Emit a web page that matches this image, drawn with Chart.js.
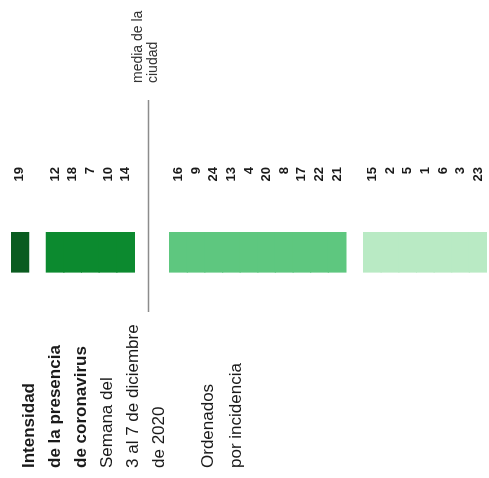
<!DOCTYPE html>
<html><head><meta charset="utf-8">
<script src="https://cdn.jsdelivr.net/npm/chart.js@4/dist/chart.umd.min.js"></script>
<style>
html,body{margin:0;padding:0;background:#fff;overflow:hidden}
#stage{position:relative;width:489px;height:478px;overflow:hidden;background:#fff}
#frame{position:absolute;left:0;top:0;width:478px;height:489px;transform-origin:0 0;transform:translate(0,478px) rotate(-90deg)}
#c{position:absolute;left:0;top:0}
.t{position:absolute;font-family:'Liberation Sans',Arial,sans-serif;color:#1a1a1a;white-space:nowrap}
</style></head>
<body><div id="stage"><div id="frame">
<canvas id="c" width="478" height="489"></canvas>
<div class="t" style="left:10px;top:16px;font-size:17px;line-height:26px"><b>Intensidad<br>de la presencia<br>de coronavirus</b><br>Semana del<br>3 al 7 de diciembre<br>de 2020</div>
<div class="t" style="left:10px;top:194px;font-size:17px;line-height:28px">Ordenados<br>por incidencia</div>
<div class="t" style="left:395px;top:130px;font-size:14px;line-height:15px;color:#333">media de la<br>ciudad</div>
</div></div>
<script>
// Districts grouped by intensity level (ordered by incidence)
const nivel1 = ['19'];
const nivel2 = ['12','18','7','10','14'];
const nivel3 = ['16','9','24','13','4','20','8','17','22','21'];
const nivel4 = ['15','2','5','1','6','3','23'];
const grupos = [nivel1, nivel2, nivel3, nivel4];
const huecos = [1, 2, 1];            // empty slots between groups
const colores = ['#0a5c20', '#0c8a2f', '#5ec77f', '#b9eac4'];
const posicionMedia = 7.3;           // city mean, located between groups 2 and 3

// Build category labels (with empty gap slots)
const etiquetas = [];
const nivelDeSlot = [];
grupos.forEach((g, gi) => {
  g.forEach(d => { etiquetas.push(d); nivelDeSlot.push(gi); });
  if (gi < huecos.length) for (let k = 0; k < huecos[gi]; k++) { etiquetas.push(''); nivelDeSlot.push(-1); }
});

const barDatasets = grupos.map((g, gi) => ({
  type: 'bar',
  label: 'Nivel ' + (gi + 1),
  data: nivelDeSlot.map(n => n === gi ? [1, 2] : null),
  backgroundColor: colores[gi],
  borderWidth: 0,
  barPercentage: 1,
  categoryPercentage: 1,
  inflateAmount: 0.6,
  grouped: false,
  indexAxis: 'y',
  xAxisID: 'x',
  yAxisID: 'y'
}));

const lineaMedia = {
  type: 'line',
  label: 'media de la ciudad',
  data: [{x: 0, y: posicionMedia}, {x: 5.3, y: posicionMedia}],
  borderColor: '#8c8c8c',
  borderWidth: 1.5,
  pointRadius: 0,
  clip: false,
  indexAxis: 'y',
  xAxisID: 'x',
  yAxisID: 'y2'
};

new Chart(document.getElementById('c'), {
  data: { labels: etiquetas, datasets: [...barDatasets, lineaMedia] },
  options: {
    responsive: false,
    animation: false,
    indexAxis: 'y',
    layout: { padding: { left: 166, right: 167, top: 11, bottom: 2 } },
    plugins: { legend: { display: false }, tooltip: { enabled: false } },
    scales: {
      x: { type: 'linear', min: 0, max: 2, display: false },
      y: {
        type: 'category',
        position: 'right',
        offset: true,
        grid: { display: false, drawTicks: false },
        border: { display: false },
        afterFit: s => { s.width = 65; s.paddingTop = 0; s.paddingBottom = 0; },
        ticks: {
          autoSkip: false,
          crossAlign: 'far',
          padding: 51,
          color: '#1a1a1a',
          font: { family: "'Liberation Sans',Arial,sans-serif", size: 13, weight: 'bold' }
        }
      },
      y2: { type: 'linear', min: -0.5, max: etiquetas.length - 0.5, reverse: true, display: false }
    }
  }
});
</script>
</body></html>
